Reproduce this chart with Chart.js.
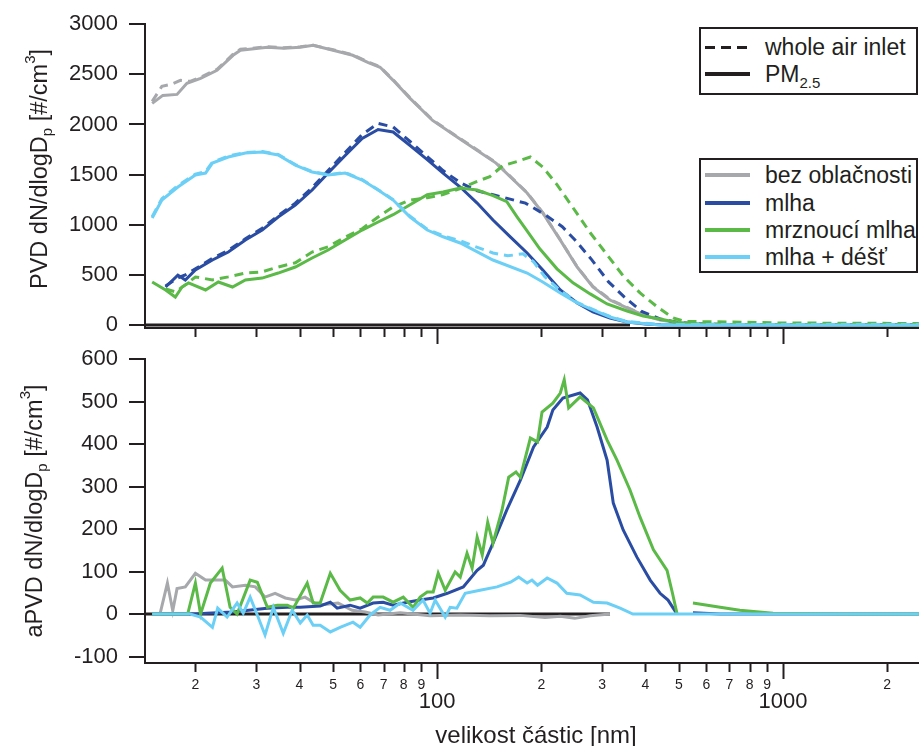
<!DOCTYPE html>
<html lang="cs">
<head>
<meta charset="utf-8">
<title>PVD - velikost částic</title>
<script src="https://cdn.jsdelivr.net/npm/chart.js@4.4.1/dist/chart.umd.min.js"></script>
<style>
  html, body { margin: 0; padding: 0; background: #fff; }
  body { width: 919px; height: 746px; position: relative; overflow: hidden;
         font-family: "Liberation Sans", Arial, sans-serif; color: #231f20; }
  .panel { position: absolute; left: 0; width: 919px; }
  #panelTop { top: 0; height: 370px; }
  #panelBottom { top: 330px; height: 416px; }
  .ytitle, .xtitle { position: absolute; white-space: nowrap; line-height: 1; }
  .ytitle { font-size: 23.5px; transform: translate(-50%, -50%) rotate(-90deg); }
  .xtitle { font-size: 24px; transform: translate(-50%, -50%); }
  .ytitle sub { font-size: 15px; vertical-align: -5px; line-height: 0; }
  .ytitle sup { font-size: 15px; vertical-align: 12px; line-height: 0; }
  .legend { position: absolute; border: 2px solid #231f20; background: #fff; }
  .row { position: absolute; left: 0; height: 0; }
  .sw { position: absolute; left: 4px; width: 45px; height: 4px; top: -2px; }
  .lt { position: absolute; left: 64px; top: 0; transform: translateY(-50%);
        font-size: 23px; line-height: 1; white-space: nowrap; }
  .lt sub { font-size: 15px; vertical-align: -6px; line-height: 0; }
</style>
</head>
<body>

<div class="panel" id="panelTop"><canvas id="chartTop"></canvas></div>
<div class="panel" id="panelBottom"><canvas id="chartBottom"></canvas></div>

<div class="ytitle" style="left:40px; top:169px;">PVD dN/dlogD<sub>p</sub> [#/cm<sup>3</sup>]</div>
<div class="ytitle" style="left:35px; top:511px;">aPVD dN/dlogD<sub>p</sub> [#/cm<sup>3</sup>]</div>
<div class="xtitle" style="left:536px; top:735px;">velikost částic [nm]</div>

<!-- legenda: typ vstupu -->
<div class="legend" style="left:699px; top:27px; width:215px; height:64px;">
  <div class="row" style="top:18px;">
    <div class="sw" style="background:repeating-linear-gradient(90deg,#231f20 0 10px,transparent 10px 16px); height:3px; top:-1px;"></div>
    <div class="lt">whole air inlet</div>
  </div>
  <div class="row" style="top:45px;">
    <div class="sw" style="background:#231f20;"></div>
    <div class="lt">PM<sub>2.5</sub></div>
  </div>
</div>

<!-- legenda: počasí -->
<div class="legend" style="left:699px; top:158px; width:215px; height:111px;">
  <div class="row" style="top:15px;"><div class="sw" style="background:#a6a8ab;"></div><div class="lt">bez oblačnosti</div></div>
  <div class="row" style="top:43px;"><div class="sw" style="background:#2a4da3;"></div><div class="lt">mlha</div></div>
  <div class="row" style="top:70px;"><div class="sw" style="background:#5bb947;"></div><div class="lt">mrznoucí mlha</div></div>
  <div class="row" style="top:97px;"><div class="sw" style="background:#6ccff6;"></div><div class="lt">mlha + déšť</div></div>
</div>

<script>
// osa x (nm) - ticky a popisky
const xTicks = [20, 30, 40, 50, 60, 70, 80, 90, 100, 200, 300, 400, 500, 600, 700, 800, 900, 1000, 2000]
const xTickLabels = ['2', '3', '4', '5', '6', '7', '8', '9', '100', '2', '3', '4', '5', '6', '7', '8', '9', '1000', '2']
const topYTicks = [0, 500, 1000, 1500, 2000, 2500, 3000]
const bottomYTicks = [-100, 0, 100, 200, 300, 400, 500, 600]

// horní panel: PVD [nm, hodnota]
const bezPM = [[15.0,2210],[16.1,2290],[17.7,2300],[18.9,2410],[20.7,2460],[23.1,2540],[25.7,2690],[27.0,2740],[32.3,2770],[36.0,2760],[40.2,2770],[43.8,2790],[50.0,2740],[57.0,2690],[63.0,2620],[68.4,2570],[74.6,2440],[83.5,2260],[97.0,2040],[117,1850],[148,1615],[182,1316],[202,1117],[227,847],[254,578],[282,379],[316,249],[354,170],[394,100],[441,50],[504,20],[576,5],[700,0],[2470,0]]
const bezWAI = [[15.0,2230],[16.0,2380],[17.0,2400],[18.1,2440],[19.3,2430],[20.7,2470],[23.1,2550],[25.7,2700],[27.0,2750],[32.3,2775],[36.0,2765],[40.2,2775],[43.8,2790],[50.0,2745],[57.0,2695],[63.0,2625],[68.4,2575],[74.6,2445],[83.5,2265],[97.0,2045],[117,1855],[148,1620],[182,1320],[202,1120],[227,850],[254,580],[282,385],[316,255],[354,175],[394,105],[441,55],[504,25],[576,10],[700,5],[2470,5]]
const mlhaPM = [[16.4,379],[17.8,498],[18.7,449],[20.0,548],[22.4,648],[24.9,728],[27.9,847],[31.2,947],[34.7,1077],[38.9,1196],[43.5,1346],[48.4,1515],[54.2,1690],[60.7,1860],[67.5,1950],[74.6,1925],[83.5,1790],[93.6,1650],[104,1515],[116.6,1376],[130.5,1216],[145,1047],[163,877],[182,718],[202,548],[227,349],[254,219],[282,130],[316,70],[354,30],[400,10],[450,0],[2470,0]]
const mlhaWAI = [[16.4,390],[17.8,470],[18.7,500],[20.0,560],[22.4,665],[24.9,745],[27.9,860],[31.2,965],[34.7,1090],[38.9,1215],[43.5,1370],[48.4,1540],[54.2,1720],[60.7,1900],[67.5,2010],[74.6,1975],[83.5,1830],[93.6,1680],[104,1540],[116.6,1420],[130,1340],[145,1300],[180,1215],[205,1100],[230,980],[250,850],[280,650],[313,430],[350,270],[390,135],[441,60],[494,25],[576,10],[700,5],[2470,5]]
const mrzPM = [[15.0,429],[16.4,349],[17.5,279],[18.3,379],[19.1,419],[21.4,349],[23.3,429],[25.6,379],[27.9,449],[31.2,468],[34.7,518],[38.9,578],[43.5,668],[48.4,748],[54.2,847],[60.7,947],[67.5,1027],[74.6,1100],[83.5,1200],[93.6,1300],[104,1326],[116.6,1366],[130.5,1346],[145,1290],[159,1230],[170,1080],[180,960],[198,760],[222,560],[247,420],[277,310],[310,210],[354,140],[394,90],[441,60],[494,25],[576,10],[700,5],[2470,0]]
const mrzWAI = [[16.4,360],[17.5,330],[18.7,400],[20.0,479],[22.4,450],[24.9,480],[27.9,518],[31.2,530],[34.7,578],[38.9,620],[43.5,728],[48.4,780],[54.2,877],[60.7,960],[67.5,1077],[74.6,1177],[83.5,1246],[93.6,1270],[104,1300],[116.6,1360],[130,1430],[142,1480],[155,1590],[170,1630],[186,1675],[202,1575],[222,1400],[247,1170],[277,920],[310,700],[345,490],[386,320],[433,180],[481,70],[520,35],[700,30],[1000,20],[2470,15]]
const destPM = [[15.0,1067],[16.0,1246],[17.8,1376],[20.0,1496],[21.4,1515],[22.4,1615],[24.9,1675],[27.9,1715],[31.2,1725],[34.7,1695],[38.9,1595],[43.5,1525],[48.4,1496],[54.2,1515],[60.7,1446],[67.5,1346],[74.6,1246],[83.5,1077],[93.6,947],[104,880],[116.6,818],[145,648],[182,518],[202,429],[227,319],[254,219],[282,150],[316,80],[354,30],[441,0],[2470,0]]
const destWAI = [[15.0,1080],[16.0,1260],[17.8,1390],[20.0,1505],[21.4,1530],[22.4,1625],[24.9,1685],[27.9,1720],[31.2,1730],[34.7,1700],[38.9,1600],[43.5,1530],[48.4,1500],[54.2,1520],[60.7,1450],[67.5,1350],[74.6,1250],[83.5,1085],[93.6,955],[104,890],[116.6,840],[127,790],[145,718],[160,690],[177,710],[190,630],[205,480],[227,345],[254,225],[282,155],[316,85],[354,35],[441,5],[2470,5]]
const nulaTop = [[14.3,0],[361,0]]

// dolní panel: aPVD [nm, hodnota]
const bezDiff = [[15.0,0],[15.8,0],[16.6,73],[17.2,8],[17.7,60],[18.7,64],[20.0,96],[21.4,80],[24.4,80],[25.6,64],[27.9,68],[29.8,64],[31.8,40],[34.0,49],[36.4,38],[38.9,33],[41.5,40],[45.3,21],[51.7,26],[56.8,9],[61.9,5],[67.5,-2],[78.2,3],[95.4,-4],[116.6,-2],[142,-4],[174,-3],[205,-8],[227,-5],[250,-10],[277,-4],[316,0]]
const mlhaDiff = [[15.0,0],[20.0,0],[21.6,2],[25.6,5],[32.2,14],[36.9,16],[40.2,16],[45.9,19],[49.1,28],[51.4,14],[56.0,21],[59.9,14],[65.3,26],[69.8,28],[74.6,21],[81.9,28],[89.3,33],[97.4,38],[107,49],[119,64],[130.5,103],[136,115],[145,167],[159,245],[174,315],[190,393],[208,440],[216,480],[231,508],[259,520],[272,504],[290,440],[310,362],[323,261],[345,198],[378,134],[413,80],[441,49],[465,33],[494,0],[520,null],[549,3],[658,0],[2470,0]]
const mrzDiff = [[15.0,0],[19.0,0],[20.0,73],[20.7,0],[22.1,73],[23.9,108],[25.2,16],[26.4,0],[28.8,80],[30.2,75],[32.3,16],[34.5,21],[36.9,21],[38.4,14],[42.1,73],[43.8,26],[45.9,26],[49.1,96],[52.4,56],[56.0,33],[59.9,38],[62.8,26],[65.3,40],[69.8,40],[74.6,28],[79.8,40],[85.2,16],[89.3,40],[93.6,52],[97.4,52],[100.7,96],[105.5,56],[112.7,99],[116.6,87],[122,143],[126.2,108],[130.5,181],[135,139],[140,216],[145,167],[154,245],[161,322],[169,334],[174,322],[186,414],[195,405],[201,475],[216,496],[227,520],[233,551],[240,485],[259,511],[283,485],[310,409],[331,362],[361,292],[386,228],[422,151],[462,103],[479,49],[494,0],[520,null],[549,26],[658,16],[750,9],[936,2],[1560,0],[2470,0]]
const destDiff = [[15.0,0],[19.3,0],[20.7,-7],[22.4,-31],[23.2,14],[24.7,-7],[26.4,26],[27.5,2],[28.8,40],[30.2,-2],[31.8,-49],[33.6,16],[34.7,-14],[35.9,-45],[38.1,9],[40.2,-21],[42.1,-2],[43.8,-26],[45.9,-26],[49.1,-42],[52.4,-31],[57.1,-19],[59.9,-31],[64.0,-2],[68.4,16],[73.1,9],[78.2,26],[85.2,9],[91.0,33],[95.4,2],[98.7,33],[105.5,-7],[109,16],[114,14],[120.5,49],[133,56],[149,64],[163,75],[172,87],[182,73],[188,80],[195,68],[208,85],[222,73],[237,49],[259,45],[283,28],[310,26],[338,14],[368,0],[2470,0]]
const nulaBottom = [[14.3,0],[316,0]]

const barvy = { bez: '#a6a8ab', mlha: '#2a4da3', mrz: '#5bb947', dest: '#6ccff6', nula: '#231f20' }
const inkoust = '#231f20'

Chart.defaults.font.family = '"Liberation Sans", Arial, sans-serif'
Chart.defaults.color = inkoust

function serie(data, color, dashed, order) {
    return {
        data: data.map(([x, y]) => ({ x, y })),
        borderColor: color,
        borderWidth: 3,
        borderDash: dashed ? [9, 6] : [],
        pointRadius: 0,
        fill: false,
        tension: 0,
        spanGaps: false,
        order
    }
}

const velky = v => v === 100 || v === 1000

// vlastní značky na ose x (dlouhé pro 100 a 1000)
const xTickMarks = {
    id: 'xTickMarks',
    afterDraw(chart) {
        const sc = chart.scales.x
        const ctx = chart.ctx
        ctx.save()
        ctx.strokeStyle = inkoust
        ctx.lineWidth = 2
        sc.ticks.forEach(t => {
            const px = Math.round(sc.getPixelForValue(t.value)) + 0.5
            ctx.beginPath()
            ctx.moveTo(px, sc.top)
            ctx.lineTo(px, sc.top + (velky(t.value) ? 16 : 9))
            ctx.stroke()
        })
        ctx.restore()
    }
}

function vytvorGraf(canvas, datasets, opts) {
    return new Chart(canvas, {
        type: 'line',
        data: { datasets },
        plugins: [xTickMarks],
        options: {
            responsive: true,
            maintainAspectRatio: false,
            animation: false,
            layout: { padding: { top: opts.padTop, right: 0, bottom: 0, left: 0 } },
            plugins: { legend: { display: false }, tooltip: { enabled: false } },
            scales: {
                x: {
                    type: 'logarithmic',
                    min: 14.3,
                    max: 2472,
                    afterBuildTicks: s => { s.ticks = xTicks.map(v => ({ value: v, major: velky(v) })) },
                    afterFit: s => { s.height = opts.xHeight },
                    grid: { display: false },
                    border: { display: true, color: inkoust, width: 2 },
                    ticks: {
                        display: opts.xLabels,
                        autoSkip: false,
                        maxRotation: 0,
                        minRotation: 0,
                        padding: 6,
                        color: inkoust,
                        font: c => velky(c.tick.value) ? { size: 22, lineHeight: 0.75 } : { size: 14, lineHeight: 1.2 },
                        callback: v => {
                            const lbl = xTickLabels[xTicks.indexOf(v)] || ''
                            return velky(v) ? ['', lbl] : lbl
                        }
                    }
                },
                y: {
                    min: opts.yMin,
                    max: opts.yMax,
                    afterBuildTicks: s => { s.ticks = opts.yTicks.map(v => ({ value: v })) },
                    afterFit: s => { s.width = 145 },
                    grid: { drawOnChartArea: false, drawTicks: true, tickLength: 16, color: inkoust, lineWidth: 2 },
                    border: { display: true, color: inkoust, width: 2 },
                    ticks: { padding: 11, color: inkoust, font: { size: 22 }, callback: v => String(v) }
                }
            }
        }
    })
}

vytvorGraf(document.getElementById('chartTop'), [
    serie(nulaTop, barvy.nula, false, 9),
    serie(bezWAI, barvy.bez, true, 8),
    serie(bezPM, barvy.bez, false, 7),
    serie(mlhaWAI, barvy.mlha, true, 6),
    serie(mlhaPM, barvy.mlha, false, 5),
    serie(mrzWAI, barvy.mrz, true, 4),
    serie(mrzPM, barvy.mrz, false, 3),
    serie(destWAI, barvy.dest, true, 2),
    serie(destPM, barvy.dest, false, 1)
], { padTop: 24, xHeight: 42, xLabels: false, yMin: -30, yMax: 3000, yTicks: topYTicks })

vytvorGraf(document.getElementById('chartBottom'), [
    serie(nulaBottom, barvy.nula, false, 9),
    serie(bezDiff, barvy.bez, false, 4),
    serie(mlhaDiff, barvy.mlha, false, 3),
    serie(mrzDiff, barvy.mrz, false, 2),
    serie(destDiff, barvy.dest, false, 1)
], { padTop: 29, xHeight: 83, xLabels: true, yMin: -115, yMax: 600, yTicks: bottomYTicks })
</script>
</body>
</html>
